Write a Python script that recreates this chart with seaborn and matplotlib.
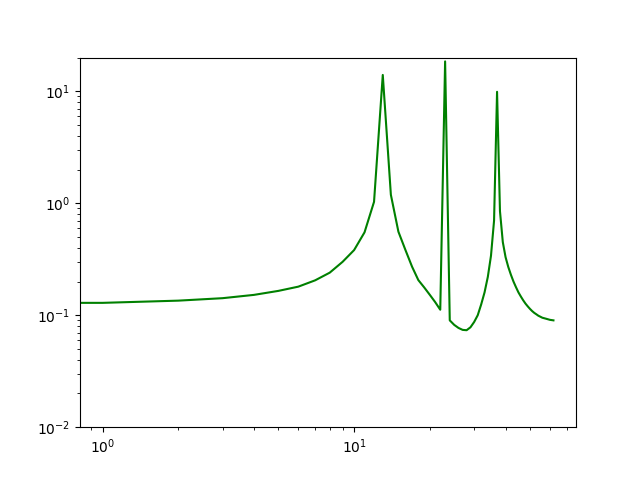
import numpy as np
import seaborn as sns
import matplotlib
matplotlib.use("Agg")
import matplotlib.pyplot as plt

# frequency samples (integer steps) and response amplitude
freq = np.arange(0, 63)
amp = [0.128, 0.129, 0.135, 0.142, 0.152, 0.165, 0.180, 0.205, 0.240, 0.300,
       0.382, 0.550, 1.03, 14.0, 1.19, 0.557, 0.382, 0.271, 0.206, 0.177,
       0.152, 0.131, 0.112, 18.5, 0.090, 0.082, 0.077, 0.074, 0.0735, 0.078,
       0.087, 0.100, 0.125, 0.160, 0.220, 0.340, 0.700, 9.9, 0.85, 0.45,
       0.33, 0.27, 0.23, 0.20, 0.178, 0.160, 0.147, 0.136, 0.127, 0.120,
       0.114, 0.109, 0.105, 0.102, 0.099, 0.097, 0.095, 0.094, 0.093, 0.092,
       0.091, 0.0905, 0.090]

fig, ax = plt.subplots(figsize=(6.4, 4.8), dpi=100)
sns.lineplot(x=freq, y=amp, color="green", ax=ax)
ax.set_xscale("log")
ax.set_yscale("log")
ax.set_ylim(1e-2, 2e1)

plt.savefig("out.png")
